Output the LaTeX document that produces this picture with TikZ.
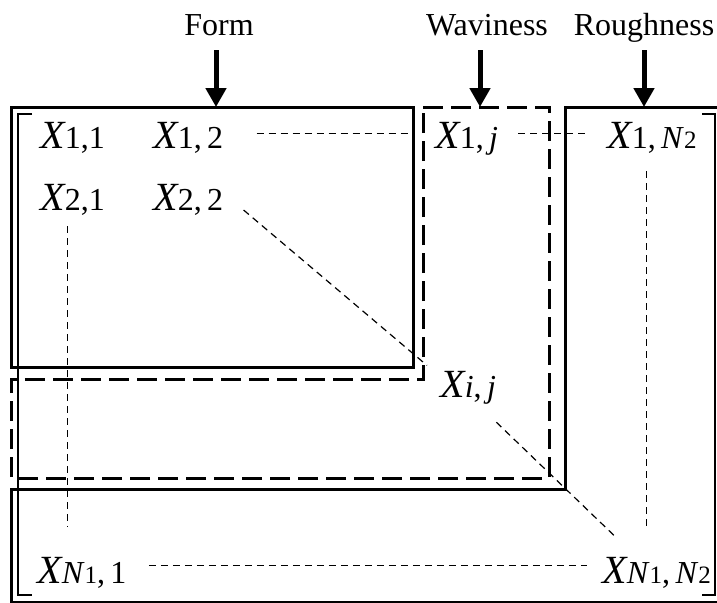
\documentclass[tikz,border=0pt]{standalone}
\usepackage{fontspec}
\setmainfont{Liberation Serif}
\usetikzlibrary{arrows.meta}
\newcommand{\elt}[1]{{\fontsize{20}{24}\selectfont\itshape X}{\fontsize{16}{19}\selectfont #1}}
\newcommand{\nsub}[1]{{\fontsize{12.5}{15}\selectfont #1}}
\begin{document}
\begin{tikzpicture}[x=0.5pt,y=-0.5pt,
  box/.style={line width=1.5pt},
  dbox/.style={line width=1.5pt,dash pattern=on 10pt off 4pt},
  conn/.style={line width=0.6pt,dash pattern=on 3.5pt off 2.5pt},
  elem/.style={inner sep=0pt,anchor=base west},
  lbl/.style={inner sep=0pt,anchor=base,font=\fontsize{16}{19}\selectfont},
  bigarrow/.style={line width=2.5pt,-{Triangle[width=10pt,length=9.5pt]}}]
\useasboundingbox (0,0) rectangle (717,602);
\clip (0,0) rectangle (717,602);
\coordinate (top) at (0,107);
% bands
\draw[box] (11,107) rectangle (413,367);
\draw[dbox] (423,107) -- (549,107) -- (549,478) -- (11,478) -- (11,379) -- (423,379) -- cycle;
\draw[box] (565,107) -- (725,107) -- (725,602) -- (11,602) -- (11,489) -- (565,489) -- cycle;
% brackets
\draw[line width=0.7pt] (32,114) -- (18,114) -- (18,595) -- (32,595);
\draw[line width=0.7pt] (702,114) -- (715,114) -- (715,595) -- (702,595);
% labels
\node[lbl] (form) at (219,35) {Form};
\node[lbl] (wav) at (487,35) {Waviness};
\node[lbl] (rough) at (644,35) {Roughness};
\draw[bigarrow] ([xshift=-1.5pt,yshift=-7.5pt]form.base) -- ([xshift=-1.5pt]form.base |- top);
\draw[bigarrow] ([xshift=-3.5pt,yshift=-7.5pt]wav.base) -- ([xshift=-3.5pt]wav.base |- top);
\draw[bigarrow] ([yshift=-7.5pt]rough.base) -- (rough.base |- top);
% entries
\node[elem] (x11) at (40,148) {\elt{1,1}};
\node[elem] (x12) at (153,148) {\elt{1,\,2}};
\node[elem] (x1j) at (435,148) {\elt{1,\,\textit{j}}};
\node[elem] (x1n) at (607,148) {\elt{1,\,\textit{N}\nsub{2}}};
\node[elem] (x21) at (40,210) {\elt{2,1}};
\node[elem] (x22) at (153,210) {\elt{2,\,2}};
\node[elem] (xij) at (440,397) {\elt{\textit{i},\,\textit{j}}};
\node[elem] (xn1) at (37,583) {\elt{\textit{N}\nsub{1},\,1}};
\node[elem] (xnn) at (602,583) {\elt{\textit{N}\nsub{1},\,\textit{N}\nsub{2}}};
\draw[conn,shorten <=16.5pt,shorten >=11.5pt] ([yshift=2pt]x12.east) -- ([yshift=2pt]x12.east -| x1j.west);
\draw[conn,shorten <=10pt,shorten >=11pt] ([yshift=2pt]x1j.east |- x12.east) -- ([yshift=2pt]x12.east -| x1n.west);
\draw[conn,shorten <=5.5pt,shorten >=14.5pt] ([xshift=-2.75pt]x21.south) -- ([xshift=-2.75pt]x21.south |- xn1.north);
\draw[conn,shorten <=9pt,shorten >=14.5pt] ([xshift=-2.75pt]x1n.south) -- ([xshift=-2.75pt]x1n.south |- xnn.north);
\draw[conn] ([xshift=10pt]x22.base east) -- ([xshift=-6.5pt,yshift=2.5pt]xij.north west);
\draw[conn] ([yshift=-9pt]xij.south east) -- ([xshift=6pt,yshift=10.5pt]xnn.north west);
\draw[conn,shorten <=11pt,shorten >=7.5pt] ([yshift=3.5pt]xn1.east) -- ([yshift=3.5pt]xn1.east -| xnn.west);
\end{tikzpicture}
\end{document}
